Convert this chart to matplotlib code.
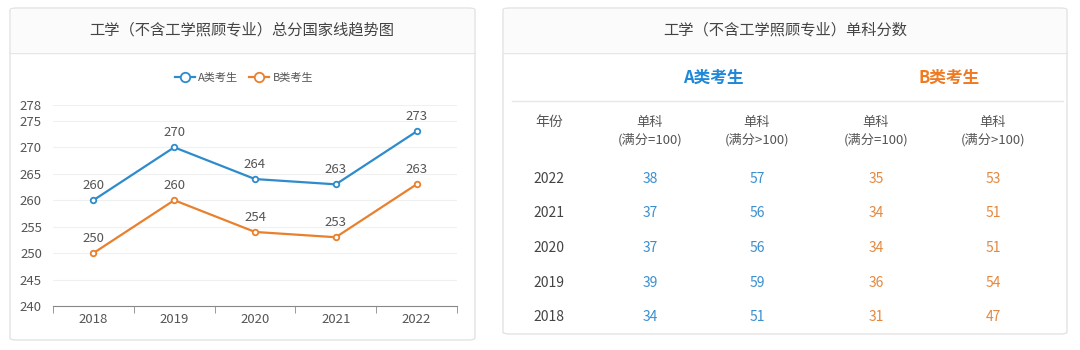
import matplotlib.pyplot as plt
from matplotlib.patches import FancyBboxPatch
from matplotlib.lines import Line2D

plt.rcParams['font.family'] = ['Noto Sans CJK SC', 'DejaVu Sans']

# data
years = ['2018', '2019', '2020', '2021', '2022']
score_a = [260, 270, 264, 263, 273]
score_b = [250, 260, 254, 253, 263]
y_ticks = [240, 245, 250, 255, 260, 265, 270, 275, 278]

table_years = ['2022', '2021', '2020', '2019', '2018']
a_eq100 = [38, 37, 37, 39, 34]
a_gt100 = [57, 56, 56, 59, 51]
b_eq100 = [35, 34, 34, 36, 31]
b_gt100 = [53, 51, 51, 54, 47]
col_heads = ['单科\n(满分=100)', '单科\n(满分>100)', '单科\n(满分=100)', '单科\n(满分>100)']

BLUE = '#2e8bcc'
ORANGE = '#e8802e'
TXT = '#555555'

W, H = 1080, 350
fig = plt.figure(figsize=(W / 100, H / 100), dpi=100)
fig.patch.set_facecolor('white')


def fx(px):
    return px / W


def fy(py):
    return 1 - py / H


def card(x0, y0, x1, y1):
    box = FancyBboxPatch((fx(x0), fy(y1)), fx(x1 - x0), (y1 - y0) / H,
                         boxstyle='round,pad=0,rounding_size=0.006',
                         transform=fig.transFigure, facecolor='white',
                         edgecolor='#e3e3e3', linewidth=1.0, zorder=-2)
    fig.patches.append(box)
    head = FancyBboxPatch((fx(x0 + 1), fy(53)), fx(x1 - x0 - 2), (53 - y0 - 1) / H,
                          boxstyle='square,pad=0', transform=fig.transFigure,
                          facecolor='#fbfbfb', edgecolor='none', zorder=-1)
    fig.patches.append(head)
    fig.lines.append(Line2D([fx(x0), fx(x1)], [fy(53), fy(53)],
                            transform=fig.transFigure, color='#e6e6e6', lw=1, zorder=-1))


card(10, 8, 475, 340)
card(503, 8, 1067, 334)

# left chart
fig.text(fx(242), fy(30), '工学（不含工学照顾专业）总分国家线趋势图',
         ha='center', va='center', fontsize=11, color='#444444')

ax = fig.add_axes([fx(53), fy(306), fx(404), 201 / H])
ax.set_zorder(3)
x = list(range(len(years)))
ax.plot(x, score_a, color=BLUE, lw=1.6, marker='o', ms=4, mfc='white',
        mec=BLUE, mew=1.3, label='A类考生')
ax.plot(x, score_b, color=ORANGE, lw=1.6, marker='o', ms=4, mfc='white',
        mec=ORANGE, mew=1.3, label='B类考生')
for xi, a, b in zip(x, score_a, score_b):
    ax.annotate(str(a), (xi, a), xytext=(0, 6), textcoords='offset points',
                ha='center', va='bottom', fontsize=9.5, color=TXT)
    ax.annotate(str(b), (xi, b), xytext=(0, 6), textcoords='offset points',
                ha='center', va='bottom', fontsize=9.5, color=TXT)
ax.set_xlim(-0.5, len(years) - 0.5)
ax.set_ylim(240, 278)
ax.set_yticks(y_ticks)
ax.set_xticks(x)
ax.set_xticklabels(years)
ax.set_xticks([i - 0.5 for i in range(len(years) + 1)], minor=True)
ax.tick_params(axis='x', which='major', length=0, pad=5, labelsize=9.5, labelcolor=TXT)
ax.tick_params(axis='x', which='minor', length=5, color='#888888')
ax.tick_params(axis='y', length=0, pad=8, labelsize=9.5, labelcolor=TXT)
ax.grid(axis='y', color='#f0f0f0', lw=0.8)
ax.set_axisbelow(True)
for s in ['top', 'right', 'left']:
    ax.spines[s].set_visible(False)
ax.spines['bottom'].set_color('#888888')
ax.set_facecolor('none')
fig.legend(loc='center', bbox_to_anchor=(fx(244), fy(78)), ncol=2, frameon=False,
           fontsize=8, labelcolor=TXT, handlelength=1.8, columnspacing=1.0,
           handletextpad=0.3, markerscale=1.7)

# right table
fig.text(fx(785), fy(30), '工学（不含工学照顾专业）单科分数',
         ha='center', va='center', fontsize=11, color='#444444')
fig.text(fx(713), fy(78), 'A类考生', ha='center', va='center', fontsize=12,
         fontweight='bold', color='#1f88d8')
fig.text(fx(949), fy(78), 'B类考生', ha='center', va='center', fontsize=12,
         fontweight='bold', color='#f07a22')
fig.lines.append(Line2D([fx(512), fx(1063)], [fy(101), fy(101)],
                        transform=fig.transFigure, color='#e6e6e6', lw=1))

col_x = [650, 757, 876, 993]
fig.text(fx(549), fy(122), '年份', ha='center', va='center', fontsize=10, color=TXT)
for cx, head in zip(col_x, col_heads):
    fig.text(fx(cx), fy(131), head, ha='center', va='center', fontsize=9.5,
             color=TXT, linespacing=1.35)

row_y = [179, 213, 248, 283, 317]
cols = [(a_eq100, '#3a8fd0'), (a_gt100, '#3a8fd0'), (b_eq100, '#e5883e'), (b_gt100, '#e5883e')]
for i, ry in enumerate(row_y):
    fig.text(fx(549), fy(ry), table_years[i], ha='center', va='center',
             fontsize=10, color='#444444')
    for cx, (vals, c) in zip(col_x, cols):
        fig.text(fx(cx), fy(ry), str(vals[i]), ha='center', va='center',
                 fontsize=10, color=c)

fig.savefig('out.png', dpi=100)
